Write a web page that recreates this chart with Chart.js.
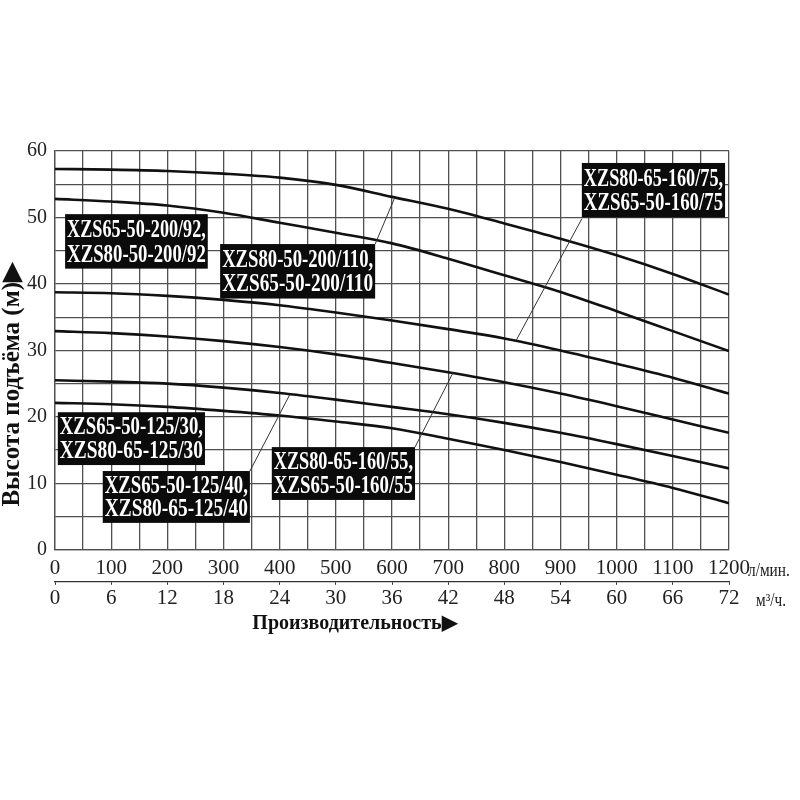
<!DOCTYPE html>
<html><head><meta charset="utf-8">
<script src="https://cdn.jsdelivr.net/npm/chart.js@4.4.1/dist/chart.umd.min.js"></script>
<style>html,body{margin:0;padding:0;background:#fff}canvas{display:block}</style>
</head><body>
<canvas id="c" width="800" height="800"></canvas>
<script>
// ---- data ----
const flowLpm = [0,100,200,300,400,500,600,700,800,900,1000,1100,1200];
const head_200_110 = [57.3,57.2,57.0,56.6,56.0,54.9,53.1,51.3,49.1,46.8,44.3,41.5,38.4];
const head_200_92  = [52.8,52.4,51.8,50.7,49.2,47.7,46.1,43.8,41.3,38.8,35.9,32.9,29.9];
const head_160_75  = [38.75,38.6,38.2,37.6,36.8,35.7,34.5,33.2,31.8,30.0,28.0,25.9,23.5];
const head_160_55  = [32.9,32.6,32.1,31.4,30.5,29.4,28.1,26.7,25.2,23.5,21.6,19.6,17.6];
const head_125_40  = [25.5,25.3,25.0,24.4,23.6,22.6,21.5,20.4,19.1,17.6,15.9,14.1,12.25];
const head_125_30  = [22.1,21.9,21.5,20.9,20.2,19.3,18.3,16.7,15.0,13.2,11.3,9.3,7.0];
const seriesNames = [
  ['XZS80-50-200/110,','XZS65-50-200/110'],
  ['XZS65-50-200/92,','XZS80-50-200/92'],
  ['XZS80-65-160/75,','XZS65-50-160/75'],
  ['XZS80-65-160/55,','XZS65-50-160/55'],
  ['XZS65-50-125/40,','XZS80-65-125/40'],
  ['XZS65-50-125/30,','XZS80-65-125/30']
];
const seriesHeads = [head_200_110, head_200_92, head_160_75, head_160_55, head_125_40, head_125_30];
const flowMax = 1200, flowStep = 100;
const m3hMax = 72, m3hStep = 6;
const headMax = 60, headStep = 10;
const xUnit1 = 'л/мин.';
const xUnit2 = 'м³/ч.';
const yTitle = 'Высота подъёма (м)▶';
const xTitle = 'Производительность▶';

// ---- callout boxes (anchored in data units) ----
const callouts = [
  {series:1, box:[18,50.5,272,42.3]},
  {series:0, box:[294,46.0,570,37.8], leader:[570,46.0,605,53.0]},
  {series:2, box:[938,58.2,1193,50.0], leader:[938,49.8,821,31.5]},
  {series:5, box:[5,20.7,267,12.75]},
  {series:4, box:[85,11.85,347,4.05], leader:[347,11.85,418,23.35]},
  {series:3, box:[386,15.45,641,7.5], leader:[641,15.45,709,26.7]}
];

const NB = '\u00a0';
const calloutPlugin = {
  id:'callouts',
  afterDatasetsDraw(chart){
    const {ctx} = chart; const x = chart.scales.x, y = chart.scales.y;
    ctx.save();
    ctx.strokeStyle = '#333'; ctx.lineWidth = 1;
    callouts.forEach(c => {
      if (!c.leader) return;
      ctx.beginPath();
      ctx.moveTo(x.getPixelForValue(c.leader[0]), y.getPixelForValue(c.leader[1]));
      ctx.lineTo(x.getPixelForValue(c.leader[2]), y.getPixelForValue(c.leader[3]));
      ctx.stroke();
    });
    callouts.forEach(c => {
      const x0 = x.getPixelForValue(c.box[0]), y0 = y.getPixelForValue(c.box[1]);
      const x1 = x.getPixelForValue(c.box[2]), y1 = y.getPixelForValue(c.box[3]);
      const w = x1 - x0, h = y1 - y0;
      ctx.fillStyle = '#0b0b0b';
      ctx.fillRect(x0, y0, w, h);
      ctx.fillStyle = '#fff';
      ctx.font = 'bold 25px "Liberation Serif", "Times New Roman", serif';
      ctx.textBaseline = 'alphabetic'; ctx.textAlign = 'left';
      seriesNames[c.series].forEach((t, i) => {
        const m = ctx.measureText(t).width;
        const sx = Math.min(0.8, (w - 4) / m);
        ctx.save();
        ctx.translate(x0 + 2, y0 + h * (i === 0 ? 0.42 : 0.87));
        ctx.scale(sx, 1);
        ctx.fillText(t, 0, 0);
        ctx.restore();
      });
    });
    ctx.restore();
  },
  afterDraw(chart){
    const {ctx} = chart; const x = chart.scales.x, x2 = chart.scales.x2;
    ctx.save();
    ctx.fillStyle = '#222'; ctx.textBaseline = 'alphabetic'; ctx.textAlign = 'left';
    ctx.font = '18px "Liberation Serif", serif';
    ctx.save(); ctx.translate(x.right + 19, x.top + 26); ctx.scale(0.85, 1); ctx.fillText(xUnit1, 0, 0); ctx.restore();
    ctx.save(); ctx.translate(x2.right + 27, x2.top + 24); ctx.scale(0.85, 1); ctx.fillText(xUnit2, 0, 0); ctx.restore();
    ctx.restore();
  }
};

const datasets = seriesHeads.map((arr, i) => ({
  label: seriesNames[i].join(' '),
  data: flowLpm.map((q, k) => ({x: q, y: arr[k]})),
  borderColor: '#111', borderWidth: 2.6, pointRadius: 0,
  cubicInterpolationMode: 'monotone', fill: false
}));

const gridColor = '#505050';
new Chart(document.getElementById('c'), {
  type: 'line',
  data: {datasets},
  options: {
    responsive: false, animation: false, devicePixelRatio: 1,
    layout: {padding: {top: 151, right: 71, bottom: 164, left: 0}},
    plugins: {legend: {display: false}, tooltip: {enabled: false}},
    scales: {
      x: {
        type: 'linear', position: 'bottom', min: 0, max: flowMax,
        grid: {color: gridColor, lineWidth: 1.3, drawTicks: false, tickLength: 0},
        border: {display: true, color: gridColor, width: 1.3},
        ticks: {stepSize: flowStep / 2, autoSkip: false, maxRotation: 0, minRotation: 0, padding: 6.5,
          color: '#222', font: {family: '"Liberation Serif", serif', size: 21},
          callback: v => (v % flowStep === 0 ? String(v) : '')},
        afterFit: s => { s.height = 32; }
      },
      x2: {
        type: 'linear', position: 'bottom', min: 0, max: m3hMax,
        grid: {drawOnChartArea: false, drawTicks: true, tickLength: 3, color: '#333', lineWidth: 1},
        border: {display: true, color: '#333', width: 1.3},
        ticks: {stepSize: m3hStep, autoSkip: false, maxRotation: 0, minRotation: 0, padding: 1,
          color: '#222', font: {family: '"Liberation Serif", serif', size: 21}},
        title: {display: true, text: xTitle + NB.repeat(15), color: '#111', padding: {top: 0, bottom: 0},
          font: {family: '"Liberation Serif", serif', size: 20, weight: 'bold'}}
      },
      y: {
        type: 'linear', min: 0, max: headMax,
        grid: {color: gridColor, lineWidth: 1.3, drawTicks: false, tickLength: 0},
        border: {display: true, color: gridColor, width: 1.3},
        ticks: {stepSize: headStep / 2, autoSkip: false, padding: 8, color: '#222',
          font: {family: '"Liberation Serif", serif', size: 20},
          callback: v => (v % headStep === 0 ? String(v) : '')},
        title: {display: true, text: yTitle + NB.repeat(11), color: '#111', padding: {top: 0.5, bottom: 0},
          font: {family: '"Liberation Serif", serif', size: 25, weight: 'bold', lineHeight: 1}},
        afterFit: s => { s.width = 55; }
      }
    }
  },
  plugins: [calloutPlugin]
});
</script>
</body></html>
